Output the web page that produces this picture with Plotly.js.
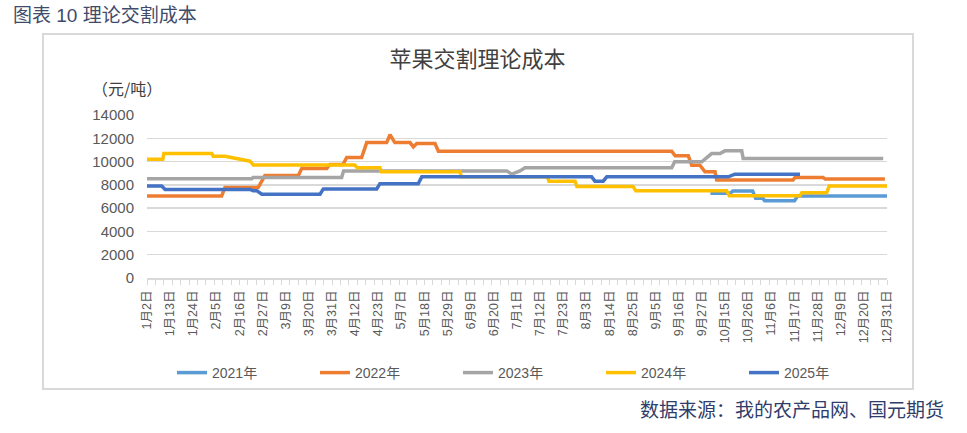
<!DOCTYPE html>
<html>
<head>
<meta charset="utf-8">
<script src="https://cdn.plot.ly/plotly-3.0.1.min.js"></script>
<style>
  html, body { margin: 0; padding: 0; background: #fff; }
  #chart { width: 967px; height: 433px; }
</style>
</head>
<body>
<div id="chart"></div>
<script>
// x-axis category labels (one every 11 categories)
const tickLabels = ["1月2日","1月13日","1月24日","2月5日","2月16日","2月27日","3月9日","3月20日","3月31日","4月12日","4月23日","5月7日","5月18日","5月29日","6月9日","6月20日","7月1日","7月12日","7月23日","8月3日","8月14日","8月25日","9月5日","9月16日","9月27日","10月15日","10月26日","11月6日","11月17日","11月28日","12月9日","12月20日","12月31日"];
const labelStep = 11; // categories between labels

const seriesNames = ["2021年","2022年","2023年","2024年","2025年"];
const seriesColors = ["#5B9BD5","#ED7D31","#A5A5A5","#FFC000","#4472C4"];

// category index where values change, and value (元/吨)
const x2021 = [268, 277.3, 278.7, 288.1, 289.5, 292.9, 293.8, 308, 309.5, 352];
const y2021 = [7270, 7270, 7470, 7470, 6840, 6840, 6640, 6640, 7040, 7040];

const x2022 = [0, 35.5, 37.1, 52.9, 56.1, 72, 73.6, 85.5, 87, 93.2, 95, 102.1, 104.5, 114, 115.6, 117.9, 125.1, 126.7, 128.3, 137, 138.6, 249.6, 251.2, 257.5, 259.1, 263, 265.4, 270.2, 271, 307.3, 308.2, 321.6, 322.6, 351];
const y2022 = [7040, 7040, 7780, 7780, 8810, 8810, 9410, 9410, 9750, 9750, 10350, 10350, 11630, 11630, 12300, 11630, 11630, 11260, 11550, 11550, 10890, 10890, 10490, 10490, 9690, 9690, 9120, 9120, 8410, 8410, 8640, 8640, 8500, 8500];

const x2023 = [0, 49.8, 50.5, 92.6, 93.5, 171.1, 173.5, 177.4, 179.8, 249.6, 251, 263.9, 268.6, 272.6, 274.9, 282.9, 283.6, 350.2];
const y2023 = [8520, 8520, 8640, 8640, 9200, 9200, 8920, 9200, 9460, 9460, 9980, 9980, 10690, 10690, 10920, 10920, 10260, 10260];

const x2024 = [0, 7.5, 8, 30.8, 31.5, 37.1, 49, 50.6, 98.9, 100, 110.8, 111.5, 148.9, 149.5, 190.5, 191.2, 203.6, 204.5, 231.2, 232.5, 275.7, 277, 310.6, 311.5, 323.3, 324.5, 352];
const y2024 = [10200, 10200, 10700, 10700, 10450, 10450, 10030, 9700, 9700, 9460, 9460, 9120, 9120, 8700, 8700, 8320, 8320, 7850, 7850, 7500, 7500, 7070, 7070, 7320, 7320, 7900, 7900];

const x2025 = [0, 7, 8.6, 49, 50.5, 52.2, 54.6, 82.3, 83.9, 109.3, 110.8, 129, 130.7, 211.5, 213.1, 217, 218.7, 276.5, 279.6, 310.6];
const y2025 = [7900, 7900, 7610, 7610, 7500, 7500, 7190, 7190, 7650, 7650, 8100, 8100, 8690, 8690, 8320, 8320, 8690, 8690, 8920, 8920];

const yTicks = [0, 2000, 4000, 6000, 8000, 10000, 12000, 14000];
const yTickText = ["0", "2000", "4000", "6000", "8000", "10000", "12000", "14000"];

const xs = [x2021, x2022, x2023, x2024, x2025];
const ys = [y2021, y2022, y2023, y2024, y2025];

const traces = seriesNames.map((n, i) => ({
  type: 'scatter', mode: 'lines', name: n,
  x: xs[i], y: ys[i],
  line: { color: seriesColors[i], width: 3.5 },
  hoverinfo: 'skip'
}));

const tickVals = tickLabels.map((_, i) => i * labelStep);
const xMax = (tickLabels.length - 1) * labelStep;

const FONT = 'Liberation Sans, Arial, Noto Sans CJK SC, sans-serif';
const CJK = 'Noto Sans CJK SC, sans-serif';

// plot area geometry in pixels
const L = 147, R = 80, T = 115, B = 155;
const PW = 967 - L - R, PH = 433 - T - B;
const px = v => (v - L) / PW;
const py = v => (433 - B - v) / PH;

const layout = {
  width: 967, height: 433,
  margin: { l: L, r: R, t: T, b: B },
  paper_bgcolor: '#ffffff', plot_bgcolor: '#ffffff',
  font: { family: FONT, color: '#595959', size: 14 },
  title: {
    text: '苹果交割理论成本',
    font: { family: CJK, size: 22, color: '#404040' },
    xref: 'container', yref: 'container',
    x: 477.5 / 967, y: 1 - 59 / 433, xanchor: 'center', yanchor: 'middle'
  },
  xaxis: {
    range: [0, xMax],
    tickmode: 'array', tickvals: tickVals, ticktext: tickLabels,
    tickangle: -90,
    tickfont: { family: FONT, size: 12.5, color: '#595959' },
    ticks: '', showgrid: false, zeroline: false,
    showline: true, linecolor: '#d9d9d9', linewidth: 1.5,
    ticklabelstandoff: 6,
    minor: { ticks: 'outside', ticklen: 5, tickcolor: '#d9d9d9', tickwidth: 1, tick0: 0, dtick: 4, showgrid: false }
  },
  yaxis: {
    range: [0, 14000],
    tickmode: 'array', tickvals: yTicks, ticktext: yTickText,
    tickfont: { family: FONT, size: 15, color: '#595959' },
    showgrid: true, gridcolor: '#d9d9d9', gridwidth: 1.3,
    zeroline: false, showline: false, ticks: '',
    ticklabelstandoff: 12
  },
  showlegend: true,
  legend: {
    orientation: 'h',
    x: px(172), xanchor: 'left',
    y: py(373), yanchor: 'middle',
    entrywidth: 98, entrywidthmode: 'pixels',
    font: { family: FONT, size: 14, color: '#595959' },
    bgcolor: 'rgba(0,0,0,0)'
  },
  shapes: [{
    type: 'rect', xref: 'paper', yref: 'paper',
    x0: px(43), x1: px(913), y0: py(389), y1: py(34),
    line: { color: '#d9d9d9', width: 2 }, fillcolor: 'rgba(0,0,0,0)', layer: 'below'
  }],
  annotations: [
    { text: '图表 10 理论交割成本', xref: 'paper', yref: 'paper', x: px(11), y: py(15),
      xanchor: 'left', yanchor: 'middle', showarrow: false,
      font: { family: FONT, size: 19, color: '#3F4B6B' } },
    { text: '（元/吨）', xref: 'paper', yref: 'paper', x: px(126.5), y: py(88),
      xanchor: 'center', yanchor: 'middle', showarrow: false,
      font: { family: CJK, size: 16, color: '#404040' } },
    { text: '数据来源：我的农产品网、国元期货', xref: 'paper', yref: 'paper', x: px(946), y: py(408),
      xanchor: 'right', yanchor: 'middle', showarrow: false,
      font: { family: CJK, size: 19, color: '#2F3D6B' } }
  ]
};

Plotly.newPlot('chart', traces, layout, { displayModeBar: false, staticPlot: true });
</script>
</body>
</html>
